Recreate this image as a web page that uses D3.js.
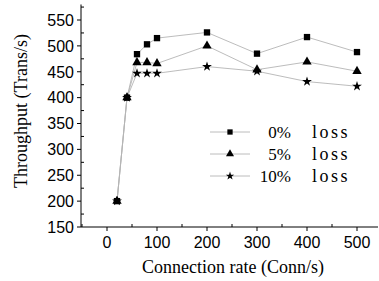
<!DOCTYPE html>
<html>
<head>
<meta charset="utf-8">
<script src="https://cdn.jsdelivr.net/npm/d3@7"></script>
<style>
    body {
        padding: 0;
        margin: 0;
        background: #fff;
    }
    svg { display: block; }
</style>
</head>
<body>
<script>
const rates = [20, 40, 60, 80, 100, 200, 300, 400, 500];
const loss0 = [200, 400, 484, 503, 515, 526, 485, 517, 488];
const loss5 = [200, 400, 468, 468, 466, 500, 454, 469, 451];
const loss10 = [200, 400, 447, 447, 447, 460, 451, 431, 422];
const seriesNames = ['0%', '5%', '10%'];
const xTicks = [0, 100, 200, 300, 400, 500];
const yTicks = [150, 200, 250, 300, 350, 400, 450, 500, 550];

const width = 379, height = 281;

const svg = d3.create('svg')
    .attr('width', width)
    .attr('height', height)
    .attr('viewBox', [0, 0, width, height]);
document.body.appendChild(svg.node());

const x = d3.scaleLinear().domain([-52, 542]).range([81, 378]);
const y = d3.scaleLinear().domain([150, 550]).range([227, 20]);
const yTop = y(580);

// axes: major ticks outside, minor inside
const xAxis = svg.append('g').attr('transform', `translate(0,${y(150)})`);
xAxis.append('line').attr('x1', x.range()[0]).attr('x2', x.range()[1]).attr('stroke', '#000');
xAxis.selectAll('line.major').data(xTicks).join('line')
    .attr('class', 'major')
    .attr('x1', d => x(d)).attr('x2', d => x(d))
    .attr('y1', 0).attr('y2', 4).attr('stroke', '#000');
xAxis.selectAll('line.minor').data([-50, 50, 150, 250, 350, 450]).join('line')
    .attr('class', 'minor')
    .attr('x1', d => x(d)).attr('x2', d => x(d))
    .attr('y1', 0).attr('y2', -3).attr('stroke', '#000');
xAxis.selectAll('text').data(xTicks).join('text')
    .attr('x', d => x(d)).attr('y', 21)
    .attr('text-anchor', 'middle')
    .attr('font-family', 'Liberation Sans, Arial, sans-serif')
    .attr('font-size', 16)
    .text(d => d);

const yAxis = svg.append('g').attr('transform', `translate(${x.range()[0]},0)`);
yAxis.append('line').attr('y1', y(150)).attr('y2', yTop).attr('stroke', '#000');
yAxis.selectAll('line.major').data(yTicks).join('line')
    .attr('class', 'major')
    .attr('y1', d => y(d)).attr('y2', d => y(d))
    .attr('x1', 0).attr('x2', -4).attr('stroke', '#000');
yAxis.selectAll('line.minor').data(d3.range(175, 580, 50)).join('line')
    .attr('class', 'minor')
    .attr('y1', d => y(d)).attr('y2', d => y(d))
    .attr('x1', 0).attr('x2', 3).attr('stroke', '#000');
yAxis.selectAll('text').data(yTicks).join('text')
    .attr('x', -7).attr('y', d => y(d))
    .attr('dy', '0.36em')
    .attr('text-anchor', 'end')
    .attr('font-family', 'Liberation Sans, Arial, sans-serif')
    .attr('font-size', 16)
    .text(d => d);

// titles
svg.append('text')
    .attr('transform', `translate(27,111) rotate(-90)`)
    .attr('text-anchor', 'middle')
    .attr('font-family', 'Liberation Serif, Times New Roman, serif')
    .attr('font-size', 18)
    .text('Throughput (Trans/s)');
svg.append('text')
    .attr('x', 233).attr('y', 273)
    .attr('text-anchor', 'middle')
    .attr('font-family', 'Liberation Serif, Times New Roman, serif')
    .attr('font-size', 18)
    .text('Connection rate (Conn/s)');

// series
const series = [loss0, loss5, loss10];
const symbols = [d3.symbolSquare, d3.symbolTriangle, d3.symbolStar];
const symSizes = [40, 38, 30];
const line = d3.line().x((d, i) => x(rates[i])).y(d => y(d));

series.forEach((vals, k) => {
    svg.append('path')
        .attr('d', line(vals))
        .attr('fill', 'none')
        .attr('stroke', '#b4b4b4')
        .attr('stroke-width', 0.9);
});
series.forEach((vals, k) => {
    svg.selectAll(null).data(vals).join('path')
        .attr('transform', (d, i) => `translate(${x(rates[i])},${y(d)})`)
        .attr('d', d3.symbol(symbols[k], symSizes[k]))
        .attr('fill', '#000');
});

// legend
const legendY = [132, 154, 176];
const legSizes = [28, 28, 22];
seriesNames.forEach((name, k) => {
    const g = svg.append('g').attr('transform', `translate(0,${legendY[k]})`);
    g.append('line').attr('x1', 210).attr('x2', 250).attr('stroke', '#b4b4b4').attr('stroke-width', 0.9);
    g.append('path').attr('transform', 'translate(230,0)')
        .attr('d', d3.symbol(symbols[k], legSizes[k]))
        .attr('fill', '#000');
    g.append('text').attr('x', 291).attr('y', 6)
        .attr('text-anchor', 'end')
        .attr('font-family', 'Liberation Serif, Times New Roman, serif')
        .attr('font-size', 17)
        .text(name);
    g.append('text').attr('x', 312).attr('y', 6)
        .attr('font-family', 'Liberation Serif, Times New Roman, serif')
        .attr('font-size', 18)
        .attr('letter-spacing', 2.5)
        .text('loss');
});
</script>
</body>
</html>
